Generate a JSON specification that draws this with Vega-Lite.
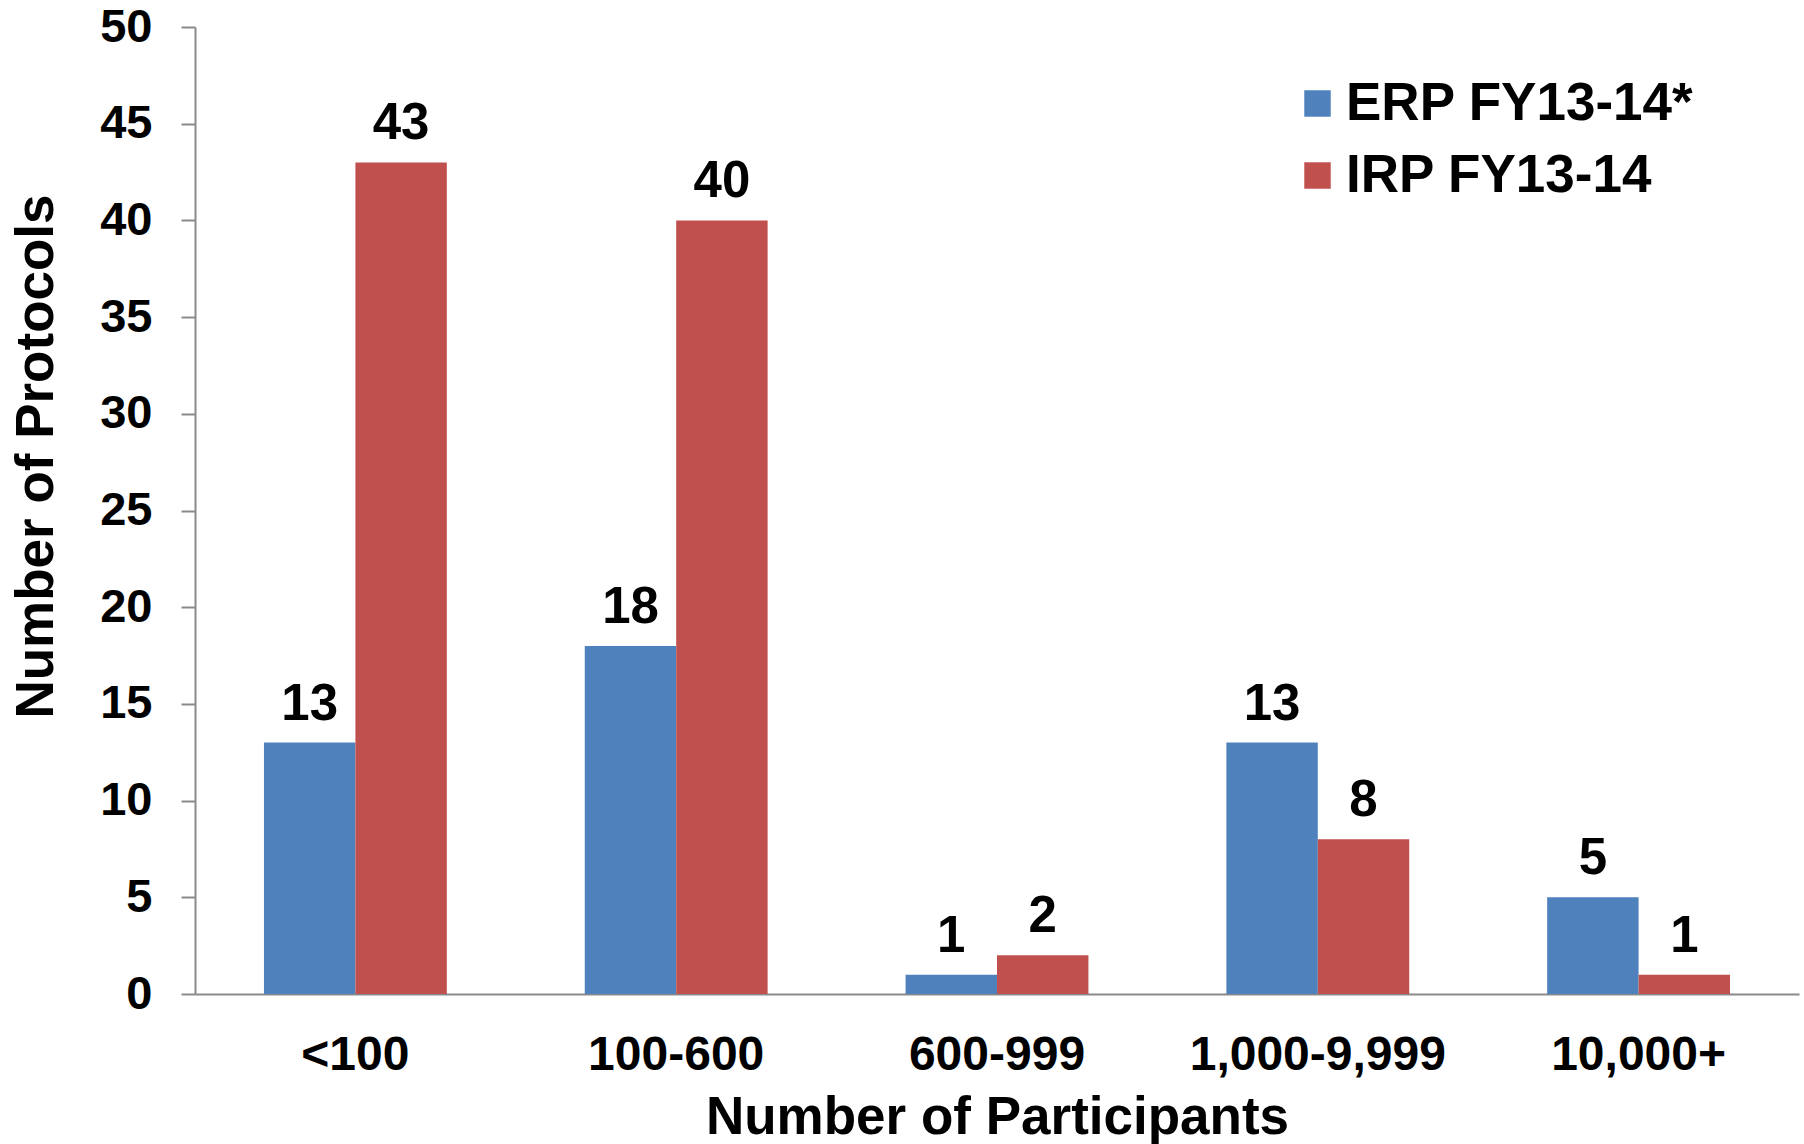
{
  "$schema": "https://vega.github.io/schema/vega-lite/v6.json",
  "width": 1604,
  "height": 967,
  "autosize": "none",
  "padding": {"left": 195, "top": 27, "right": 5, "bottom": 150},
  "background": "white",
  "config": {
    "font": "Liberation Sans",
    "view": {"stroke": null},
    "axis": {"grid": false}
  },
  "data": {
    "values": [
      {"cat": "<100", "series": "ERP FY13-14*", "value": 13},
      {"cat": "<100", "series": "IRP FY13-14", "value": 43},
      {"cat": "100-600", "series": "ERP FY13-14*", "value": 18},
      {"cat": "100-600", "series": "IRP FY13-14", "value": 40},
      {"cat": "600-999", "series": "ERP FY13-14*", "value": 1},
      {"cat": "600-999", "series": "IRP FY13-14", "value": 2},
      {"cat": "1,000-9,999", "series": "ERP FY13-14*", "value": 13},
      {"cat": "1,000-9,999", "series": "IRP FY13-14", "value": 8},
      {"cat": "10,000+", "series": "ERP FY13-14*", "value": 5},
      {"cat": "10,000+", "series": "IRP FY13-14", "value": 1}
    ]
  },
  "encoding": {
    "x": {
      "field": "cat",
      "type": "nominal",
      "sort": ["<100", "100-600", "600-999", "1,000-9,999", "10,000+"],
      "scale": {"paddingInner": 0.43, "paddingOuter": 0.215},
      "axis": {
        "title": "Number of Participants",
        "titleFontSize": 53,
        "titleFontWeight": "bold",
        "titleColor": "black",
        "titleBaseline": "alphabetic",
        "titleY": 139,
        "labelAngle": 0,
        "labelFontSize": 48,
        "labelFontWeight": "bold",
        "labelColor": "black",
        "labelBaseline": "alphabetic",
        "labelPadding": 75,
        "labelLimit": 0,
        "labelOverlap": false,
        "ticks": false,
        "tickSize": 0,
        "domainColor": "#8a8a8a",
        "domainWidth": 2
      }
    },
    "xOffset": {
      "field": "series",
      "type": "nominal",
      "scale": {"paddingInner": 0, "paddingOuter": 0}
    },
    "y": {
      "field": "value",
      "type": "quantitative",
      "scale": {"domain": [0, 50], "nice": false},
      "axis": {
        "title": "Number of Protocols",
        "titleFontSize": 53,
        "titleFontWeight": "bold",
        "titleColor": "black",
        "titleBaseline": "alphabetic",
        "titleAngle": -90,
        "titleX": -143,
        "titleY": 429,
        "titleAlign": "center",
        "values": [0, 5, 10, 15, 20, 25, 30, 35, 40, 45, 50],
        "labelFontSize": 47,
        "labelFontWeight": "bold",
        "labelColor": "black",
        "labelPadding": 29,
        "tickSize": 14,
        "tickColor": "#8a8a8a",
        "tickWidth": 2,
        "domainColor": "#8a8a8a",
        "domainWidth": 2
      }
    }
  },
  "layer": [
    {
      "mark": {"type": "bar"},
      "encoding": {
        "color": {
          "field": "series",
          "type": "nominal",
          "scale": {"domain": ["ERP FY13-14*", "IRP FY13-14"], "range": ["#4F81BD", "#C0504D"]},
          "legend": {
            "title": null,
            "orient": "none",
            "legendX": 1096,
            "legendY": 50,
            "padding": 0,
            "symbolType": "square",
            "symbolSize": 700,
            "symbolStrokeWidth": 0,
            "labelFontSize": 53,
            "labelFontWeight": "bold",
            "labelColor": "black",
            "labelOffset": 2,
            "rowPadding": 18,
            "labelLimit": 600
          }
        }
      }
    },
    {
      "mark": {"type": "text", "dy": -23, "baseline": "alphabetic", "align": "center", "fontSize": 51, "fontWeight": "bold", "color": "black"},
      "encoding": {
        "text": {"field": "value", "type": "quantitative"}
      }
    }
  ]
}
